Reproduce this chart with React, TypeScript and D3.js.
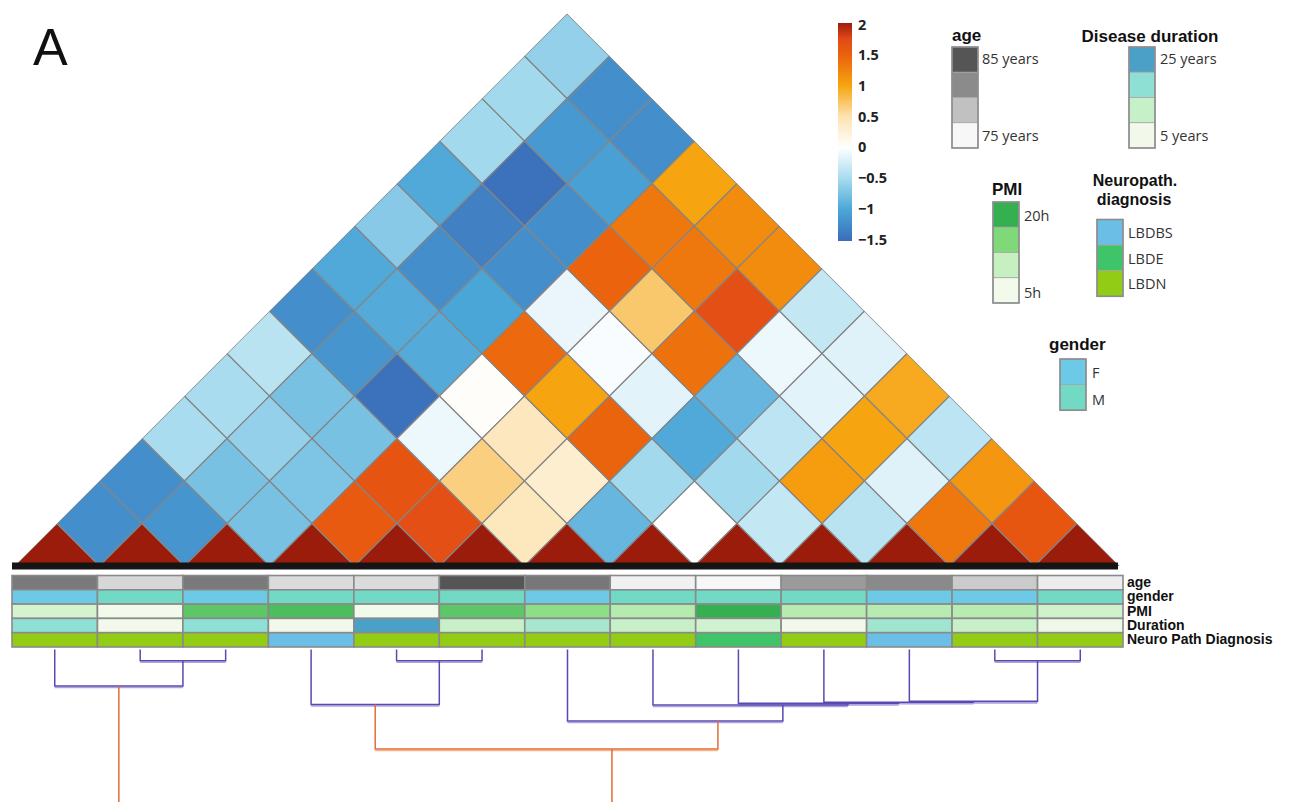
import React from "react";
import * as d3 from "d3";

// ---- samples (in dendrogram order) ----
const sampleIds = ["P01", "P02", "P03", "P04", "P05", "P06", "P07", "P08", "P09", "P10", "P11", "P12", "P13"];

// Upper triangle of the similarity matrix: row i holds values for j = i+1 .. 12
const corrUpper: number[][] = [
  [-1.2, -1.2, -0.48, -0.48, -0.39, -1.2, -0.97, -0.67, -0.97, -0.52, -0.52, -0.6],
  [-1.15, -0.75, -0.6, -0.75, -1.15, -0.95, -1.2, -1.33, -1.45, -1.11, -1.2],
  [-0.75, -0.72, -0.75, -1.45, -0.95, -1.0, -1.2, -1.2, -1.05, -1.2],
  [1.56, 1.62, -0.1, 0.03, 1.43, -0.12, 1.47, 1.32, 1.0],
  [1.68, 0.65, 0.41, 1.0, -0.04, 0.71, 1.32, 1.18],
  [0.42, 0.3, 1.48, -0.16, 1.37, 1.68, 1.18],
  [-0.85, -0.52, -0.97, -0.85, -0.1, -0.33],
  [0.0, -0.52, -0.37, -0.16, -0.18],
  [-0.33, 1.06, 1.0, 0.95],
  [-0.39, -0.18, -0.37],
  [1.32, 1.1],
  [1.6],
];
const diagonalValue = 2;

// ---- colour scale ----
const colorStops = [-1.5, -1, -0.5, 0, 0.5, 1, 1.5, 1.75, 2];
const colorHex = ["#3a6cb8", "#4ba6d8", "#a6dbee", "#ffffff", "#fde2b0", "#f6a40f", "#ea600d", "#e24818", "#9c1c0b"];
const colorbarTicks = [2, 1.5, 1, 0.5, 0, -0.5, -1, -1.5];

// ---- sample annotations ----
const ageYears = [82.7, 77, 82.7, 76.7, 76.7, 85, 82.9, 75.4, 75, 80.7, 81.7, 77.7, 75.6];
const genders = ["F", "M", "F", "M", "M", "M", "F", "M", "M", "M", "F", "F", "M"];
const pmiHours = [8.4, 5, 17.3, 18.4, 5, 17.3, 14, 11.1, 20, 11, 11, 11, 8.9];
const durationYears = [18.3, 5, 18.3, 5, 25, 11.5, 15.3, 11.5, 10.1, 5, 16.2, 11.5, 5.4];
const diagnoses = ["LBDN", "LBDN", "LBDN", "LBDBS", "LBDN", "LBDN", "LBDN", "LBDN", "LBDE", "LBDN", "LBDBS", "LBDN", "LBDN"];
const trackNames = ["age", "gender", "PMI", "Duration", "Neuro Path Diagnosis"];

// legend levels
const ageLegendStops = [85, 81.67, 78.33, 75];
const durationLegendStops = [25, 18.33, 11.67, 5];
const pmiLegendStops = [20, 15, 10, 5];
const genderLevels = ["F", "M"];
const diagnosisLevels = ["LBDBS", "LBDE", "LBDN"];

// ---- hierarchical clustering (children: leaf index or merge id) ----
const merges = [
  { id: "m1", left: 1, right: 2, height: 0.4, at: 1.5 },
  { id: "m2", left: 0, right: "m1", height: 1.3, at: 0.75 },
  { id: "m3", left: 4, right: 5, height: 0.4, at: 4.5 },
  { id: "m4", left: 3, right: "m3", height: 1.96, at: 3.75 },
  { id: "m5", left: 11, right: 12, height: 0.4, at: 11.5 },
  { id: "m6", left: 10, right: "m5", height: 1.85, at: 10.75 },
  { id: "m7", left: 9, right: "m6", height: 1.88, at: 9.875 },
  { id: "m8", left: 8, right: "m7", height: 1.92, at: 9.28 },
  { id: "m9", left: 7, right: "m8", height: 1.98, at: 8.52 },
  { id: "m10", left: 6, right: "m9", height: 2.55, at: 7.76 },
  { id: "m11", left: "m4", right: "m10", height: 3.55, at: 6.52 },
  { id: "m12", left: "m2", right: "m11", height: 6.0, at: 3.64 },
];
const clusterCut = 3;

const W = 1305;
const H = 802;
const titleFont = "'Liberation Sans', Arial, sans-serif";
const labelFont = "'Open Sans', 'Liberation Sans', sans-serif";
const trackFont = "'Liberation Sans Narrow', 'Liberation Sans', Arial, sans-serif";

export default function App() {
  const color = d3.scaleLinear<string>().domain(colorStops).range(colorHex).interpolate(d3.interpolateRgb).clamp(true);

  // heatmap geometry
  const col = d3.scaleBand().domain(sampleIds).range([14.5, 1119.5]);
  const half = col.bandwidth() / 2;
  const baseY = 566;
  const cx = (k: number) => (col(sampleIds[k]) as number) + half;
  const n = sampleIds.length;

  const cells: { i: number; j: number; v: number }[] = [];
  for (let i = 0; i < n; i++) {
    cells.push({ i, j: i, v: diagonalValue });
    corrUpper[i]?.forEach((v, k) => cells.push({ i, j: i + 1 + k, v }));
  }
  const diamond = (i: number, j: number) => {
    const x = (cx(i) + cx(j)) / 2;
    const y = baseY - (j - i) * half;
    return `M${x},${y - half}L${x + half},${y}L${x},${y + half}L${x - half},${y}Z`;
  };
  const apexX = (cx(0) + cx(n - 1)) / 2;
  const apexY = baseY - n * half;
  const clipTri = `M${apexX},${apexY}L${col.range()[1]},${baseY}L${col.range()[0]},${baseY}Z`;

  // colour bar
  const cbY = d3.scaleLinear().domain([-1.5, 2]).range([239.5, 24.5]);
  const fmt = (v: number) => (v < 0 ? "\u2212" + Math.abs(v) : String(v));

  // annotation tracks
  const tx = d3.scaleBand().domain(sampleIds).range([12, 1123]);
  const ty = d3.scaleBand().domain(trackNames).range([575.5, 647]);
  const ageColor = d3.scaleLinear<string>().domain([75, 85]).range(["#f7f7f7", "#555555"]);
  const pmiColor = d3.scaleLinear<string>().domain([5, 10, 15, 20]).range(["#f2faec", "#c6f0c0", "#7fd978", "#35b050"]);
  const durColor = d3.scaleLinear<string>().domain([5, 11.67, 18.33, 25]).range(["#f2f9ea", "#c6f0c8", "#8ee0d4", "#4ba0c8"]);
  const genderColor = d3.scaleOrdinal<string, string>().domain(genderLevels).range(["#6ccae6", "#72d9c4"]);
  const diagColor = d3.scaleOrdinal<string, string>().domain(diagnosisLevels).range(["#6bbfe6", "#3fc46a", "#92cc14"]);
  const trackFill: Record<string, (k: number) => string> = {
    age: (k) => ageColor(ageYears[k]),
    gender: (k) => genderColor(genders[k]),
    PMI: (k) => pmiColor(pmiHours[k]),
    Duration: (k) => durColor(durationYears[k]),
    "Neuro Path Diagnosis": (k) => diagColor(diagnoses[k]),
  };

  // dendrogram
  const dx = (u: number) => 12 + tx.step() * (u + 0.5);
  const dy = d3.scaleLinear().domain([0, 5]).range([649.5, 789.5]);
  const nodePos: Record<string, { x: number; y: number }> = {};
  const posOf = (c: number | string) =>
    typeof c === "number" ? { x: dx(c), y: dy(0) } : nodePos[c];
  const links = merges.map((m) => {
    const a = posOf(m.left);
    const b = posOf(m.right);
    const y = dy(m.height);
    nodePos[m.id] = { x: dx(m.at), y };
    return { a, b, y, top: m.height > clusterCut };
  });

  const legendBox = (x: number, y: number, fills: string[], cellH: number) => (
    <g>
      {fills.map((f, k) => (
        <rect key={k} x={x} y={y + k * cellH} width={26} height={cellH} fill={f} stroke="#a6a6a6" strokeWidth={0.8} />
      ))}
      <rect x={x} y={y} width={26} height={cellH * fills.length} fill="none" stroke="#8c8c8c" strokeWidth={1.6} />
    </g>
  );

  return (
    <svg width={W} height={H} style={{ position: "absolute", left: 0, top: 0, background: "#fff" }}>
      <defs>
        <clipPath id="triClip">
          <path d={clipTri} />
        </clipPath>
        <linearGradient id="cbGrad" x1="0" y1="1" x2="0" y2="0">
          {colorStops.map((s) => (
            <stop key={s} offset={(s + 1.5) / 3.5} stopColor={color(s)} />
          ))}
        </linearGradient>
      </defs>
      <rect width={W} height={H} fill="#fff" />

      <text x={33} y={65} fontFamily={titleFont} fontSize={52} fill="#111">A</text>

      {/* rotated heatmap */}
      <g clipPath="url(#triClip)">
        {cells.map((c) => (
          <path key={`${c.i}-${c.j}`} d={diamond(c.i, c.j)} fill={color(c.v)} stroke="#858585" strokeWidth={1.2} />
        ))}
      </g>
      <rect x={12} y={562.5} width={1106} height={7} fill="#151515" />

      {/* colour bar */}
      <rect x={838} y={cbY(2) - 1.5} width={14} height={cbY(-1.5) - cbY(2) + 3} fill="url(#cbGrad)" />
      {colorbarTicks.map((t) => (
        <text key={t} x={858} y={cbY(t) + 5} fontFamily={labelFont} fontWeight={700} fontSize={14.5} fill="#222">
          {fmt(t)}
        </text>
      ))}

      {/* legends */}
      <g fontFamily={labelFont} fontSize={14.5} fill="#333">
        <text x={952} y={41} fontFamily={titleFont} fontWeight={700} fontSize={17} fill="#111">age</text>
        {legendBox(952, 47, ageLegendStops.map((v) => ageColor(v)), 25.25)}
        <text x={982} y={64}>85 years</text>
        <text x={982} y={141}>75 years</text>

        <text x={1150} y={42} textAnchor="middle" fontFamily={titleFont} fontWeight={700} fontSize={17} fill="#111">Disease duration</text>
        {legendBox(1129, 47, durationLegendStops.map((v) => durColor(v)), 25.25)}
        <text x={1160} y={64}>25 years</text>
        <text x={1160} y={141}>5 years</text>

        <text x={992} y={195} fontFamily={titleFont} fontWeight={700} fontSize={17} fill="#111">PMI</text>
        {legendBox(993, 202, pmiLegendStops.map((v) => pmiColor(v)), 25.25)}
        <text x={1024} y={221}>20h</text>
        <text x={1024} y={298}>5h</text>

        <text x={1135} y={186} textAnchor="middle" fontFamily={titleFont} fontWeight={700} fontSize={16} fill="#111">Neuropath.</text>
        <text x={1134} y={204.5} textAnchor="middle" fontFamily={titleFont} fontWeight={700} fontSize={16} fill="#111">diagnosis</text>
        {legendBox(1097, 219.5, diagnosisLevels.map((d) => diagColor(d)), 25.6)}
        {diagnosisLevels.map((d, k) => (
          <text key={d} x={1128} y={238 + k * 25.6}>{d}</text>
        ))}

        <text x={1049} y={350} fontFamily={titleFont} fontWeight={700} fontSize={17} fill="#111">gender</text>
        {legendBox(1060, 359, genderLevels.map((g) => genderColor(g)), 25.6)}
        {genderLevels.map((g, k) => (
          <text key={g} x={1092} y={378 + k * 26.5}>{g}</text>
        ))}
      </g>

      {/* annotation tracks */}
      {trackNames.map((t) => (
        <g key={t}>
          {sampleIds.map((s, k) => (
            <rect
              key={s}
              x={tx(s) as number}
              y={ty(t) as number}
              width={tx.bandwidth()}
              height={ty.bandwidth()}
              fill={trackFill[t](k)}
              stroke="#8a8a8a"
              strokeWidth={1.6}
            />
          ))}
          <text
            x={1127}
            y={(ty(t) as number) + ty.bandwidth() / 2 + 4.5}
            fontFamily={trackFont}
            fontWeight={700}
            fontSize={14}
            fill="#111"
          >
            {t}
          </text>
        </g>
      ))}

      {/* dendrogram */}
      <g fill="none">
        {links.map((l, k) => (
          <path
            key={`s${k}`}
            d={`M${l.a.x},${l.y + 1.6}H${l.b.x}`}
            stroke={l.top ? "#f3b592" : "#aea2e0"}
            strokeWidth={1.6}
          />
        ))}
        {links.map((l, k) => (
          <path
            key={k}
            d={`M${l.a.x},${l.a.y}V${l.y}H${l.b.x}V${l.b.y}`}
            stroke={l.top ? "#e26e36" : "#5a49b0"}
            strokeWidth={1.5}
          />
        ))}
      </g>
    </svg>
  );
}
